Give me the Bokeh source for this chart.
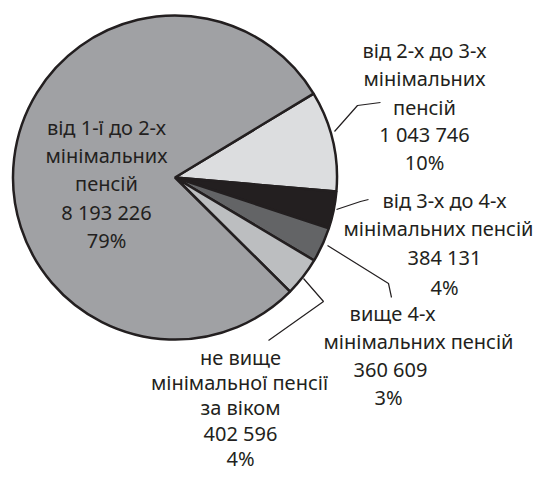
import math
from bokeh.plotting import figure
from bokeh.models import Range1d
from bokeh.core.properties import value
from bokeh.embed import file_html
from bokeh.resources import INLINE

# ---- data (clockwise order starting at upper right) ----
categories = [
    ["від 2-х до 3-х", "мінімальних", "пенсій"],
    ["від 3-х до 4-х", "мінімальних пенсій"],
    ["вище 4-х", "мінімальних пенсій"],
    ["не вище", "мінімальної пенсії", "за віком"],
    ["від 1-ї до 2-х", "мінімальних", "пенсій"],
]
counts = [1043746, 384131, 360609, 402596, 8193226]
colors = ["#dcdddf", "#231f20", "#636466", "#bcbec0", "#a0a1a4"]

total = sum(counts)

def fmt(v):
    return f"{v:,}".replace(",", " ")

label_lines = []
for cat, v in zip(categories, counts):
    label_lines.append(cat + [fmt(v), f"{round(v / total * 100)}%"])

# ---- layout ----
W, H = 538, 471
def Y(py):  # pixel y from top -> data y
    return H - py

p = figure(width=W, height=H, output_backend="svg", toolbar_location=None,
           x_range=Range1d(0, W), y_range=Range1d(0, H), min_border=0)
p.axis.visible = False
p.grid.visible = False
p.outline_line_color = None
p.background_fill_color = "white"

cx, cy, r = 174.5, Y(177), 162
top = math.radians(31.2)
cum = 0.0
for v, c in zip(counts, colors):
    a_end = top - cum / total * 2 * math.pi
    cum += v
    a_start = top - cum / total * 2 * math.pi
    p.wedge(x=cx, y=cy, radius=r, start_angle=a_start, end_angle=a_end,
            fill_color=c, line_color="#231f20", line_width=2.5)

# leader lines (pixel coords from top-left)
leaders = [
    [(334, 131), (357, 105), (380, 102)],
    [(336, 209), (360, 201), (368, 199)],
    [(327, 245), (388, 283), (391, 297)],
    [(303, 278), (323, 301), (268, 340)],
]
for pts in leaders:
    p.line([q[0] for q in pts], [Y(q[1]) for q in pts], line_color="#231f20", line_width=1.2)

# label line positions (x center, y center) per line
positions = [
    [(424, 50), (424, 78), (424, 107), (424, 134), (424, 162)],
    [(444, 200), (438, 228), (444, 257), (444, 287)],
    [(392, 313), (418, 341), (390, 369), (388, 397)],
    [(240, 357), (239, 382), (240, 407), (240, 433), (240, 458)],
    [(106, 127), (106, 155), (106, 183), (106, 212), (106, 240)],
]
for lines, pos in zip(label_lines, positions):
    for t, (x, y) in zip(lines, pos):
        p.text(x=[x], y=[Y(y)], text=[t], text_align="center", text_baseline="middle",
               text_font=value("Noto Sans"), text_font_size="20px", text_color="#231f20")

open("out.html", "w").write(file_html(p, INLINE))
